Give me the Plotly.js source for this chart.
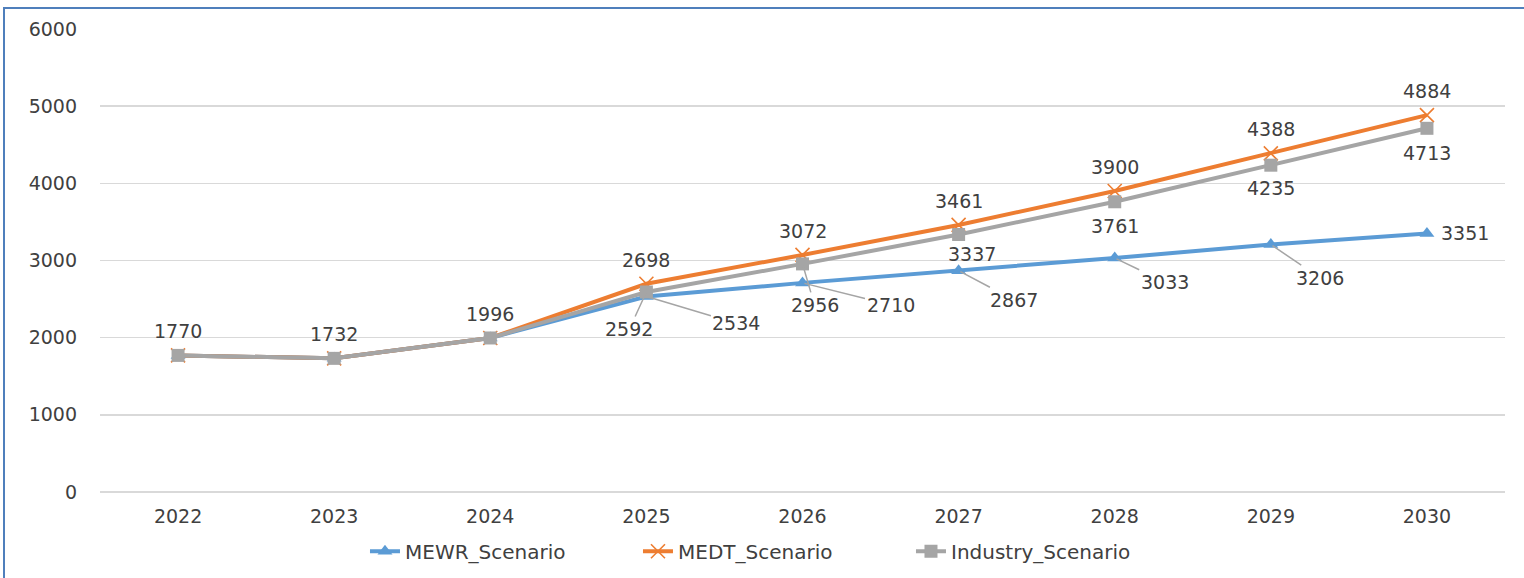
<!DOCTYPE html>
<html>
<head>
<meta charset="utf-8">
<script src="https://cdn.plot.ly/plotly-3.0.1.min.js"></script>
<style>
  html, body { margin: 0; padding: 0; background: #ffffff; }
  #chart { width: 1524px; height: 578px; position: relative; }
  #frame { position: absolute; left: 3px; top: 7px; width: 1530px; height: 600px;
           border-left: 2px solid #4f7fbc; border-top: 2px solid #4f7fbc; pointer-events: none; }
</style>
</head>
<body>
<div id="chart"></div>
<div id="frame"></div>
<script>
// ---- data ----
const years = ['2022', '2023', '2024', '2025', '2026', '2027', '2028', '2029', '2030'];
const mewr = [1770, 1732, 1996, 2534, 2710, 2867, 3033, 3206, 3351];
const medt = [1770, 1732, 1996, 2698, 3072, 3461, 3900, 4388, 4884];
const industry = [1770, 1732, 1996, 2592, 2956, 3337, 3761, 4235, 4713];
const seriesNames = ['MEWR_Scenario', 'MEDT_Scenario', 'Industry_Scenario'];

// ---- label placement (pixel offsets from each point; null = no label) ----
const medtLabelPos = [[0,-24],[0,-24],[0,-24],[0,-24],[0,-24],[0,-24],[0,-24],[0,-24],[0,-24]];
const indLabelPos = [null,null,null,[-17,37,true],[12,41,true],[13,20,false],[0,24,false],[0,23,false],[0,25,false]];
const mewrLabelPos = [null,null,null,[90,27,true],[88,22,true],[55,29,true],[50,24,true],[49,33,true],[38,0,false]];

const BLUE = '#5B9BD5', ORANGE = '#ED7D31', GRAY = '#A5A5A5';
const FONT = 'DejaVu Sans, Verdana, sans-serif';
const TEXT = '#404040';

const traces = [
  { x: years, y: mewr, name: seriesNames[0], type: 'scatter', mode: 'lines+markers',
    line: { color: BLUE, width: 4 },
    marker: { symbol: 'triangle-up', size: 13, color: BLUE } },
  { x: years, y: medt, name: seriesNames[1], type: 'scatter', mode: 'lines+markers',
    line: { color: ORANGE, width: 4 },
    marker: { symbol: 'x-thin', size: 14, color: ORANGE, line: { color: ORANGE, width: 1.6 } } },
  { x: years, y: industry, name: seriesNames[2], type: 'scatter', mode: 'lines+markers',
    line: { color: GRAY, width: 4 },
    marker: { symbol: 'square', size: 13, color: GRAY } }
];

const annotations = [];
function addLabels(values, pos) {
  for (let i = 0; i < values.length; i++) {
    const p = pos[i];
    if (!p) continue;
    const a = { x: i, y: values[i], xref: 'x', yref: 'y', text: String(values[i]),
      font: { family: FONT, size: 19, color: TEXT } };
    if (p[2]) {
      a.showarrow = true; a.ax = p[0]; a.ay = p[1];
      a.arrowhead = 0; a.arrowwidth = 1.5; a.arrowcolor = GRAY; a.standoff = 2;
    } else {
      a.showarrow = false; a.xshift = p[0]; a.yshift = -p[1];
    }
    annotations.push(a);
  }
}
addLabels(medt, medtLabelPos);
addLabels(industry, indLabelPos);
addLabels(mewr, mewrLabelPos);

const layout = {
  width: 1524, height: 578,
  margin: { l: 100, r: 19, t: 29, b: 86, autoexpand: false },
  paper_bgcolor: '#ffffff', plot_bgcolor: '#ffffff',
  font: { family: FONT, size: 19, color: TEXT },
  showlegend: true,
  legend: { orientation: 'h', x: 0.1886, xanchor: 'left', y: -0.128, yanchor: 'middle',
    font: { family: FONT, size: 20, color: TEXT }, entrywidth: 228, entrywidthmode: 'pixels' },
  xaxis: { type: 'category', range: [-0.5, 8.5], showgrid: false, zeroline: false,
    showline: false, ticks: '', tickfont: { family: FONT, size: 19, color: TEXT },
    ticklabelstandoff: 11, fixedrange: true, automargin: false },
  yaxis: { range: [0, 6000], tickvals: [0, 1000, 2000, 3000, 4000, 5000, 6000],
    showgrid: true, gridcolor: '#D9D9D9', gridwidth: 1.5, zeroline: true, zerolinecolor: '#D9D9D9',
    zerolinewidth: 1.5, showline: false, ticks: '', automargin: false,
    tickfont: { family: FONT, size: 19, color: TEXT }, ticklabelstandoff: 22, fixedrange: true },
  annotations: annotations
};

Plotly.newPlot('chart', traces, layout, { displayModeBar: false, staticPlot: true });
</script>
</body>
</html>
